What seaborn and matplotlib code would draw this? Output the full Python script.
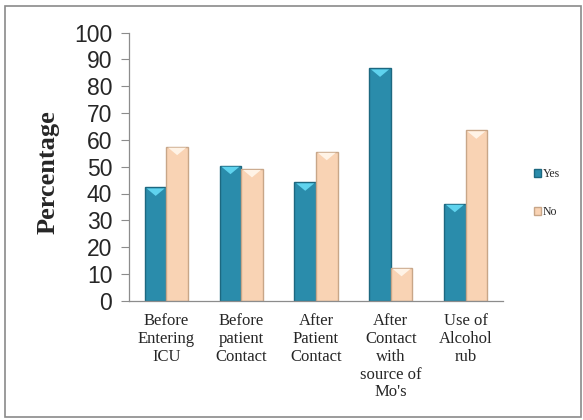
import pandas as pd
import seaborn as sns
from matplotlib import pyplot as plt
from matplotlib.patches import Rectangle, Patch, Polygon

# Data
categories = [
    "Before\nEntering\nICU",
    "Before\npatient\nContact",
    "After\nPatient\nContact",
    "After\nContact\nwith\nsource of\nMo's",
    "Use of\nAlcohol\nrub",
]
yes_values = [42.3, 50.4, 44.2, 86.7, 36.2]
no_values = [57.5, 49.2, 55.6, 12.3, 63.6]
series_names = ["Yes", "No"]
series_colors = {"Yes": "#2a8cab", "No": "#f9d3b4"}
edge_colors = {"Yes": "#1d6880", "No": "#c8a688"}
bevel_colors = {"Yes": "#5fd3ee", "No": "#fff3e6"}
y_ticks = list(range(0, 101, 10))

df = pd.DataFrame({
    "category": categories * 2,
    "value": yes_values + no_values,
    "series": ["Yes"] * len(categories) + ["No"] * len(categories),
})

sns.set_theme(style="white")
plt.rcParams["font.family"] = ["Liberation Serif", "DejaVu Serif"]

fig = plt.figure(figsize=(5.83, 4.2), dpi=100)
ax = fig.add_axes([129 / 583, (420 - 300.7) / 420, (503 - 129) / 583, (300.7 - 32.7) / 420])

sns.barplot(data=df, x="category", y="value", hue="series", hue_order=series_names,
            palette=series_colors, order=categories, width=0.575, gap=0,
            saturation=1, ax=ax, legend=False)

# outline + small bevel triangle on top of each bar, like the 3D originals
for container, name in zip(ax.containers, series_names):
    for bar in container:
        bar.set_edgecolor(edge_colors[name])
        bar.set_linewidth(1.0)
        x0, w, h = bar.get_x(), bar.get_width(), bar.get_height()
        tri = Polygon([(x0 + w * 0.08, h - 0.4), (x0 + w * 0.92, h - 0.4), (x0 + w / 2, h - 3.2)],
                      closed=True, facecolor=bevel_colors[name], edgecolor="none", zorder=3)
        ax.add_patch(tri)

ax.set_ylim(0, 100)
ax.set_xlim(-0.5, 4.5)
ax.set_yticks(y_ticks)
ax.set_yticklabels([str(t) for t in y_ticks], family="Liberation Sans", fontsize=16.5)
ax.tick_params(axis="y", length=6, width=0.8, color="#8c8c8c", pad=6, left=True)
ax.tick_params(axis="x", length=0, pad=9)
for lbl in ax.get_xticklabels():
    lbl.set_fontsize(12)
    lbl.set_linespacing(1.15)

for side in ["top", "right"]:
    ax.spines[side].set_visible(False)
for side in ["left", "bottom"]:
    ax.spines[side].set_color("#8c8c8c")
    ax.spines[side].set_linewidth(0.9)

ax.set_xlabel("")
ax.set_ylabel("Percentage", fontsize=19, fontweight="bold")
ax.yaxis.set_label_coords(-0.185, 0.48)

handles = [Patch(facecolor=series_colors[n], edgecolor=edge_colors[n], label=n) for n in series_names]
fig.legend(handles=handles, loc="center left", bbox_to_anchor=(528 / 583, 1 - 193 / 420),
           frameon=False, fontsize=8.5, handlelength=0.6, handleheight=0.6,
           handletextpad=0.15, labelspacing=2.2, borderpad=0)

# outer chart border
fig.patches.append(Rectangle((5 / 583, 3 / 420), 576 / 583, 411 / 420, transform=fig.transFigure,
                             fill=False, edgecolor="#8a8a8a", linewidth=1.2))

fig.savefig("out.png", dpi=100)
